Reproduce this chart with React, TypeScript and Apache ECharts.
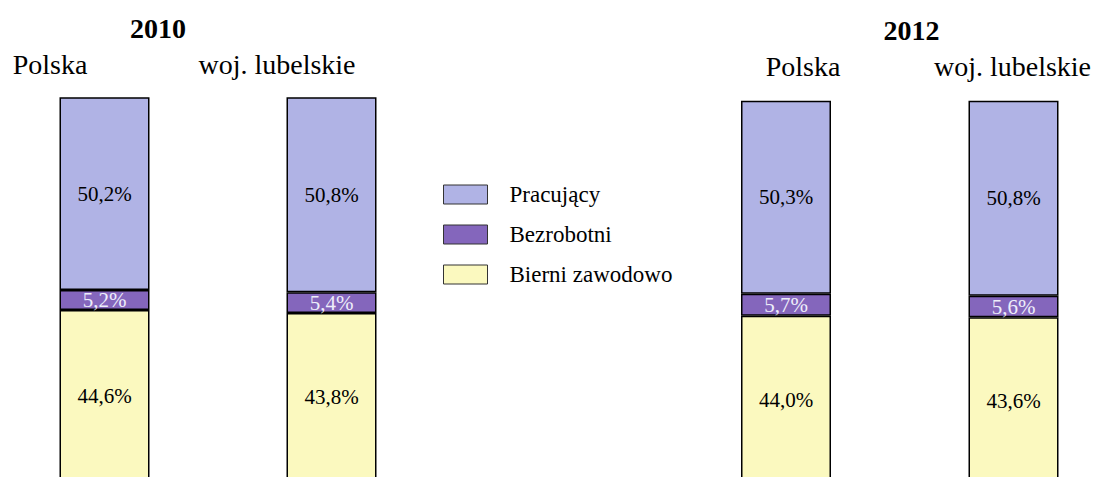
import React, { useEffect, useRef } from "react";
import * as echarts from "echarts";

const regions = ["Polska", "woj. lubelskie"];
const years = ["2010", "2012"];
const seriesNames = ["Pracujący", "Bezrobotni", "Bierni zawodowo"];
const pracujacy2010 = [50.2, 50.8];
const bezrobotni2010 = [5.2, 5.4];
const bierni2010 = [44.6, 43.8];
const pracujacy2012 = [50.3, 50.8];
const bezrobotni2012 = [5.7, 5.6];
const bierni2012 = [44.0, 43.6];

const FONT = "Liberation Serif";
const COLORS: Record<string, string> = {
  "Pracujący": "#b0b3e5",
  "Bezrobotni": "#8466bc",
  "Bierni zawodowo": "#fbf9bf",
};
const LABEL_COLORS: Record<string, string> = {
  "Pracujący": "#000000",
  "Bezrobotni": "#eeeefa",
  "Bierni zawodowo": "#000000",
};

function fmt(v: number) {
  return v.toFixed(1).replace(".", ",") + "%";
}

export default function App() {
  const ref = useRef<HTMLDivElement>(null);
  useEffect(() => {
    document.body.style.margin = "0";
    if (!ref.current) return;
    const chart = echarts.init(ref.current, undefined, { renderer: "svg" });
    const data2010: Record<string, number[]> = {
      "Pracujący": pracujacy2010,
      "Bezrobotni": bezrobotni2010,
      "Bierni zawodowo": bierni2010,
    };
    const data2012: Record<string, number[]> = {
      "Pracujący": pracujacy2012,
      "Bezrobotni": bezrobotni2012,
      "Bierni zawodowo": bierni2012,
    };
    const stackOrder = ["Bierni zawodowo", "Bezrobotni", "Pracujący"];
    const series: any[] = [];
    [data2010, data2012].forEach((d, gi) => {
      stackOrder.forEach((name) => {
        series.push({
          type: "bar",
          name,
          stack: "s" + gi,
          xAxisIndex: gi,
          yAxisIndex: gi,
          barWidth: 90,
          data: d[name],
          itemStyle: {
            color: COLORS[name],
            borderColor: "#000000",
            borderWidth: 1.5,
          },
          label: {
            show: true,
            position: "inside",
            formatter: (p: any) => fmt(p.value),
            fontFamily: FONT,
            fontSize: 21,
            color: LABEL_COLORS[name],
          },
        });
      });
    });
    const headerFont = "28px " + FONT;
    chart.setOption({
      animation: false,
      textStyle: { fontFamily: FONT },
      grid: [
        { left: -9, width: 454, top: 97.3, height: 384, outerBoundsMode: "none", containLabel: false },
        { left: 672.25, width: 455, top: 100.7, height: 384, outerBoundsMode: "none", containLabel: false },
      ],
      xAxis: [
        { type: "category", gridIndex: 0, data: regions, show: false },
        { type: "category", gridIndex: 1, data: regions, show: false },
      ],
      yAxis: [
        { type: "value", gridIndex: 0, min: 0, max: 100, show: false },
        { type: "value", gridIndex: 1, min: 0, max: 100, show: false },
      ],
      legend: {
        data: seriesNames,
        orient: "vertical",
        left: 443,
        top: 183,
        padding: 0,
        itemWidth: 44,
        itemHeight: 19,
        itemGap: 17,
        icon: "rect",
        selectedMode: false,
        textStyle: {
          fontFamily: FONT,
          fontSize: 23,
          color: "#000000",
          lineHeight: 19,
          padding: [0, 0, 0, 17],
        },
        itemStyle: { borderColor: "#333333", borderWidth: 1 },
      },
      graphic: [
        { type: "text", x: 158, y: 28, style: { text: years[0], font: "bold " + headerFont, fill: "#000", textAlign: "center", textVerticalAlign: "middle" } },
        { type: "text", x: 50, y: 64, style: { text: regions[0], font: headerFont, fill: "#000", textAlign: "center", textVerticalAlign: "middle" } },
        { type: "text", x: 277, y: 64, style: { text: regions[1], font: headerFont, fill: "#000", textAlign: "center", textVerticalAlign: "middle" } },
        { type: "text", x: 911.5, y: 30, style: { text: years[1], font: "bold " + headerFont, fill: "#000", textAlign: "center", textVerticalAlign: "middle" } },
        { type: "text", x: 803, y: 66, style: { text: regions[0], font: headerFont, fill: "#000", textAlign: "center", textVerticalAlign: "middle" } },
        { type: "text", x: 1012.5, y: 66, style: { text: regions[1], font: headerFont, fill: "#000", textAlign: "center", textVerticalAlign: "middle" } },
      ],
      series,
    });
    return () => chart.dispose();
  }, []);
  return (
    <div
      ref={ref}
      style={{ position: "absolute", left: 0, top: 0, width: 1100, height: 477 }}
    />
  );
}
